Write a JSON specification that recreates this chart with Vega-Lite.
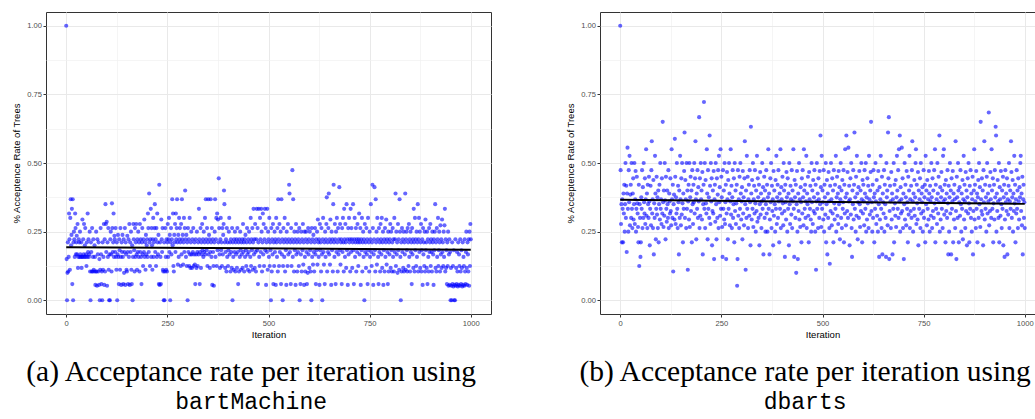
{
"$schema":"https://vega.github.io/schema/vega-lite/v6.json",
"background":"white",
"padding":{"left":10,"top":11,"right":0,"bottom":0},
"spacing":72,
"config":{"view":{"stroke":"#333333","strokeWidth":1},"font":"Liberation Sans"},
"datasets":{
"fit":[{"i":0,"b":0.1935,"d":0.366},{"i":1000,"b":0.184,"d":0.3515}],
"mc":[
{"i":0,"b":1,"d":1},{"i":1,"b":0.15,"d":0.474},{"i":2,"b":0,"d":0.278},{"i":3,"b":0.1,"d":0.35},{"i":4,"b":0.211,"d":0.211},{"i":5,"b":0.105,"d":0.368},{"i":6,"b":0.158,"d":0.333},{"i":7,"b":0.316,"d":0.211},{"i":8,"b":0.222,"d":0.389},{"i":9,"b":0.111,"d":0.316},
{"i":10,"b":0.3,"d":0.421},{"i":11,"b":0.368,"d":0.25},{"i":12,"b":0.2,"d":0.35},{"i":13,"b":0.238,"d":0.5},{"i":14,"b":0.333,"d":0.3},{"i":15,"b":0.059,"d":0.417},{"i":16,"b":0.368,"d":0.176},{"i":17,"b":0,"d":0.389},{"i":18,"b":0.211,"d":0.556},{"i":19,"b":0.25,"d":0.333},
{"i":20,"b":0.222,"d":0.25},{"i":21,"b":0.158,"d":0.474},{"i":22,"b":0.316,"d":0.357},{"i":23,"b":0.263,"d":0.526},{"i":24,"b":0.167,"d":0.273},{"i":25,"b":0.211,"d":0.385},{"i":26,"b":0.235,"d":0.421},{"i":27,"b":0.167,"d":0.3},{"i":28,"b":0.278,"d":0.5},{"i":29,"b":0.118,"d":0.333},
{"i":30,"b":0.158,"d":0.263},{"i":31,"b":0.222,"d":0.389},{"i":32,"b":0.211,"d":0.444},{"i":33,"b":0.158,"d":0.294},{"i":34,"b":0.25,"d":0.35},{"i":35,"b":0.167,"d":0.5},{"i":36,"b":0.158,"d":0.278},{"i":37,"b":0.211,"d":0.368},{"i":38,"b":0.118,"d":0.471},{"i":39,"b":0.158,"d":0.25},
{"i":40,"b":0.294,"d":0.333},{"i":41,"b":0.158,"d":0.45},{"i":42,"b":0.222,"d":0.353},{"i":43,"b":0.167,"d":0.316},{"i":44,"b":0.278,"d":0.267},{"i":45,"b":0.158,"d":0.211},{"i":46,"b":0.2,"d":0.421},{"i":47,"b":0.263,"d":0.125},{"i":48,"b":0.158,"d":0.35},{"i":49,"b":0.167,"d":0.3},
{"i":50,"b":0.125,"d":0.158},{"i":51,"b":0.211,"d":0.211},{"i":52,"b":0.158,"d":0.375},{"i":53,"b":0.316,"d":0.333},{"i":54,"b":0.176,"d":0.474},{"i":55,"b":0.222,"d":0.263},{"i":56,"b":0.158,"d":0.412},{"i":57,"b":0.167,"d":0.3},{"i":58,"b":0.25,"d":0.5},{"i":59,"b":0.105,"d":0.357},
{"i":60,"b":0,"d":0.316},{"i":61,"b":0.211,"d":0.444},{"i":62,"b":0.176,"d":0.278},{"i":63,"b":0.105,"d":0.368},{"i":64,"b":0.263,"d":0.55},{"i":65,"b":0.105,"d":0.308},{"i":66,"b":0.158,"d":0.389},{"i":67,"b":0.222,"d":0.263},{"i":68,"b":0.111,"d":0.421},{"i":69,"b":0.105,"d":0.35},
{"i":70,"b":0.2,"d":0.3},{"i":71,"b":0.158,"d":0.45},{"i":72,"b":0.056,"d":0.36},{"i":73,"b":0.105,"d":0.2},{"i":74,"b":0.25,"d":0.333},{"i":75,"b":0.105,"d":0.417},{"i":76,"b":0.053,"d":0.273},{"i":77,"b":0.222,"d":0.474},{"i":78,"b":0.167,"d":0.579},{"i":79,"b":0.105,"d":0.316},
{"i":80,"b":0.211,"d":0.368},{"i":81,"b":0.056,"d":0.263},{"i":82,"b":0.15,"d":0.438},{"i":83,"b":0,"d":0.167},{"i":84,"b":0.111,"d":0.353},{"i":85,"b":0.263,"d":0.3},{"i":86,"b":0.167,"d":0.526},{"i":87,"b":0.059,"d":0.389},{"i":88,"b":0.105,"d":0.222},{"i":89,"b":0,"d":0.333},
{"i":90,"b":0.211,"d":0.45},{"i":91,"b":0.111,"d":0.312},{"i":92,"b":0.158,"d":0.375},{"i":93,"b":0.278,"d":0.263},{"i":94,"b":0.056,"d":0.4},{"i":95,"b":0.222,"d":0.211},{"i":96,"b":0.105,"d":0.35},{"i":97,"b":0.35,"d":0.421},{"i":98,"b":0.278,"d":0.294},{"i":99,"b":0.176,"d":0.5},
{"i":100,"b":0.286,"d":0.333},{"i":101,"b":0.053,"d":0.368},{"i":102,"b":0.211,"d":0.278},{"i":103,"b":0.158,"d":0.444},{"i":104,"b":0.263,"d":0.316},{"i":105,"b":0.111,"d":0.65},{"i":106,"b":0,"d":0.357},{"i":107,"b":0.167,"d":0.267},{"i":108,"b":0,"d":0.4},{"i":109,"b":0.222,"d":0.308},
{"i":110,"b":0.25,"d":0.5},{"i":111,"b":0.167,"d":0.364},{"i":112,"b":0.105,"d":0.222},{"i":113,"b":0.353,"d":0.45},{"i":114,"b":0.263,"d":0.333},{"i":115,"b":0.176,"d":0.286},{"i":116,"b":0.211,"d":0.4},{"i":117,"b":0.316,"d":0.35},{"i":118,"b":0.158,"d":0.3},{"i":119,"b":0.235,"d":0.474},
{"i":120,"b":0.222,"d":0.263},{"i":121,"b":0.176,"d":0.389},{"i":122,"b":0.263,"d":0.36},{"i":123,"b":0.158,"d":0.316},{"i":124,"b":0.111,"d":0.444},{"i":125,"b":0.211,"d":0.325},{"i":126,"b":0,"d":0.273},{"i":127,"b":0.167,"d":0.55},{"i":128,"b":0.238,"d":0.368},{"i":129,"b":0.158,"d":0.3},
{"i":130,"b":0.059,"d":0.421},{"i":131,"b":0.222,"d":0.105},{"i":132,"b":0.182,"d":0.35},{"i":133,"b":0.111,"d":0.385},{"i":134,"b":0.263,"d":0.294},{"i":135,"b":0.158,"d":0.588},{"i":136,"b":0.056,"d":0.45},{"i":137,"b":0.211,"d":0.278},{"i":138,"b":0.176,"d":0.375},{"i":139,"b":0.238,"d":0.316},
{"i":140,"b":0.158,"d":0.5},{"i":141,"b":0.059,"d":0.333},{"i":142,"b":0.222,"d":0.263},{"i":143,"b":0.1,"d":0.417},{"i":144,"b":0.176,"d":0.357},{"i":145,"b":0.263,"d":0.167},{"i":146,"b":0.056,"d":0.4},{"i":147,"b":0.211,"d":0.3},{"i":148,"b":0.167,"d":0.526},{"i":149,"b":0.111,"d":0.368},
{"i":150,"b":0.105,"d":0.273},{"i":151,"b":0.235,"d":0.444},{"i":152,"b":0.176,"d":0.312},{"i":153,"b":0.059,"d":0.5},{"i":154,"b":0.222,"d":0.353},{"i":155,"b":0.158,"d":0.211},{"i":156,"b":0.278,"d":0.389},{"i":157,"b":0.056,"d":0.333},{"i":158,"b":0.211,"d":0.471},{"i":159,"b":0.176,"d":0.611},
{"i":160,"b":0.25,"d":0.3},{"i":161,"b":0.111,"d":0.438},{"i":162,"b":0.059,"d":0.368},{"i":163,"b":0.2,"d":0.263},{"i":164,"b":0,"d":0.5},{"i":165,"b":0.158,"d":0.333},{"i":166,"b":0.278,"d":0.4},{"i":167,"b":0.222,"d":0.111},{"i":168,"b":0.182,"d":0.36},{"i":169,"b":0.105,"d":0.421},
{"i":170,"b":0.263,"d":0.294},{"i":171,"b":0.158,"d":0.5},{"i":172,"b":0.211,"d":0.267},{"i":173,"b":0.278,"d":0.375},{"i":174,"b":0.167,"d":0.45},{"i":175,"b":0.111,"d":0.325},{"i":176,"b":0.222,"d":0.4},{"i":177,"b":0.176,"d":0.211},{"i":178,"b":0.25,"d":0.474},{"i":179,"b":0.158,"d":0.35},
{"i":180,"b":0.211,"d":0.278},{"i":181,"b":0.105,"d":0.421},{"i":182,"b":0.278,"d":0.357},{"i":183,"b":0.176,"d":0.5},{"i":184,"b":0.222,"d":0.316},{"i":185,"b":0.158,"d":0.444},{"i":186,"b":0.059,"d":0.579},{"i":187,"b":0.211,"d":0.368},{"i":188,"b":0.263,"d":0.222},{"i":189,"b":0.167,"d":0.389},
{"i":190,"b":0.125,"d":0.333},{"i":191,"b":0.222,"d":0.474},{"i":192,"b":0.176,"d":0.3},{"i":193,"b":0.294,"d":0.412},{"i":194,"b":0.158,"d":0.36},{"i":195,"b":0.211,"d":0.667},{"i":196,"b":0.111,"d":0.263},{"i":197,"b":0.238,"d":0.444},{"i":198,"b":0.167,"d":0.308},{"i":199,"b":0.2,"d":0.5},
{"i":200,"b":0.222,"d":0.368},{"i":201,"b":0.158,"d":0.4},{"i":202,"b":0.316,"d":0.294},{"i":203,"b":0.263,"d":0.467},{"i":204,"b":0.176,"d":0.167},{"i":205,"b":0.389,"d":0.35},{"i":206,"b":0.211,"d":0.421},{"i":207,"b":0.125,"d":0.722},{"i":208,"b":0.222,"d":0.333},{"i":209,"b":0.333,"d":0.5},
{"i":210,"b":0.158,"d":0.263},{"i":211,"b":0.263,"d":0.438},{"i":212,"b":0.2,"d":0.353},{"i":213,"b":0.111,"d":0.316},{"i":214,"b":0.222,"d":0.55},{"i":215,"b":0.3,"d":0.389},{"i":216,"b":0.158,"d":0.222},{"i":217,"b":0.211,"d":0.474},{"i":218,"b":0.263,"d":0.333},{"i":219,"b":0.35,"d":0.375},
{"i":220,"b":0.176,"d":0.3},{"i":221,"b":0.222,"d":0.6},{"i":222,"b":0.125,"d":0.417},{"i":223,"b":0.263,"d":0.278},{"i":224,"b":0.158,"d":0.5},{"i":225,"b":0.316,"d":0.36},{"i":226,"b":0.211,"d":0.444},{"i":227,"b":0.167,"d":0.2},{"i":228,"b":0.238,"d":0.325},{"i":229,"b":0.059,"d":0.4},
{"i":230,"b":0.421,"d":0.316},{"i":231,"b":0.056,"d":0.471},{"i":232,"b":0.211,"d":0.15},{"i":233,"b":0.158,"d":0.368},{"i":234,"b":0.059,"d":0.421},{"i":235,"b":0.294,"d":0.286},{"i":236,"b":0.222,"d":0.5},{"i":237,"b":0.176,"d":0.35},{"i":238,"b":0.263,"d":0.222},{"i":239,"b":0.111,"d":0.444},
{"i":240,"b":0.105,"d":0.3},{"i":241,"b":0,"d":0.385},{"i":242,"b":0.211,"d":0.474},{"i":243,"b":0,"d":0.263},{"i":244,"b":0.105,"d":0.526},{"i":245,"b":0.263,"d":0.357},{"i":246,"b":0.158,"d":0.412},{"i":247,"b":0.111,"d":0.308},{"i":248,"b":0.222,"d":0.55},{"i":249,"b":0.105,"d":0.333},
{"i":250,"b":0.211,"d":0.45},{"i":251,"b":0.278,"d":0.375},{"i":252,"b":0.158,"d":0.267},{"i":253,"b":0.222,"d":0.158},{"i":254,"b":0.3,"d":0.474},{"i":255,"b":0.176,"d":0.333},{"i":256,"b":0.238,"d":0.4},{"i":257,"b":0,"d":0.294},{"i":258,"b":0.211,"d":0.5},{"i":259,"b":0.263,"d":0.278},
{"i":260,"b":0.167,"d":0.357},{"i":261,"b":0.222,"d":0.421},{"i":262,"b":0.368,"d":0.15},{"i":263,"b":0.2,"d":0.316},{"i":264,"b":0.316,"d":0.467},{"i":265,"b":0.125,"d":0.368},{"i":266,"b":0.105,"d":0.222},{"i":267,"b":0.238,"d":0.438},{"i":268,"b":0.211,"d":0.333},{"i":269,"b":0.278,"d":0.5},
{"i":270,"b":0.176,"d":0.389},{"i":271,"b":0.316,"d":0.273},{"i":272,"b":0.222,"d":0.36},{"i":273,"b":0.263,"d":0.55},{"i":274,"b":0.368,"d":0.312},{"i":275,"b":0.211,"d":0.417},{"i":276,"b":0.13,"d":0.263},{"i":277,"b":0.238,"d":0.375},{"i":278,"b":0.158,"d":0.474},{"i":279,"b":0.3,"d":0.3},
{"i":280,"b":0.222,"d":0.35},{"i":281,"b":0.263,"d":0.444},{"i":282,"b":0.211,"d":0.211},{"i":283,"b":0.125,"d":0.5},{"i":284,"b":0.278,"d":0.325},{"i":285,"b":0.167,"d":0.4},{"i":286,"b":0.368,"d":0.278},{"i":287,"b":0.222,"d":0.353},{"i":288,"b":0.238,"d":0.421},{"i":289,"b":0.13,"d":0.053},
{"i":290,"b":0.211,"d":0.15},{"i":291,"b":0.3,"d":0.474},{"i":292,"b":0.176,"d":0.308},{"i":293,"b":0.263,"d":0.368},{"i":294,"b":0.4,"d":0.263},{"i":295,"b":0.222,"d":0.45},{"i":296,"b":0.158,"d":0.333},{"i":297,"b":0.238,"d":0.5},{"i":298,"b":0.125,"d":0.389},{"i":299,"b":0.211,"d":0.294},
{"i":300,"b":0,"d":0.36},{"i":301,"b":0.263,"d":0.412},{"i":302,"b":0.176,"d":0.222},{"i":303,"b":0.222,"d":0.471},{"i":304,"b":0.125,"d":0.316},{"i":305,"b":0.3,"d":0.375},{"i":306,"b":0.167,"d":0.273},{"i":307,"b":0.118,"d":0.444},{"i":308,"b":0.211,"d":0.579},{"i":309,"b":0.25,"d":0.35},
{"i":310,"b":0.167,"d":0.111},{"i":311,"b":0.118,"d":0.4},{"i":312,"b":0.222,"d":0.3},{"i":313,"b":0.176,"d":0.526},{"i":314,"b":0.263,"d":0.333},{"i":315,"b":0.125,"d":0.45},{"i":316,"b":0.167,"d":0.263},{"i":317,"b":0.211,"d":0.368},{"i":318,"b":0.13,"d":0.421},{"i":319,"b":0.059,"d":0.308},
{"i":320,"b":0.222,"d":0.474},{"i":321,"b":0.167,"d":0.357},{"i":322,"b":0.118,"d":0.2},{"i":323,"b":0.25,"d":0.632},{"i":324,"b":0.176,"d":0.389},{"i":325,"b":0.125,"d":0.294},{"i":326,"b":0.211,"d":0.438},{"i":327,"b":0.167,"d":0.333},{"i":328,"b":0.333,"d":0.5},{"i":329,"b":0.222,"d":0.267},
{"i":330,"b":0.059,"d":0.368},{"i":331,"b":0.176,"d":0.417},{"i":332,"b":0.263,"d":0.316},{"i":333,"b":0.118,"d":0.474},{"i":334,"b":0.211,"d":0.353},{"i":335,"b":0.167,"d":0.25},{"i":336,"b":0.278,"d":0.4},{"i":337,"b":0.182,"d":0.325},{"i":338,"b":0.222,"d":0.526},{"i":339,"b":0.158,"d":0.286},
{"i":340,"b":0.25,"d":0.444},{"i":341,"b":0.176,"d":0.375},{"i":342,"b":0.211,"d":0.3},{"i":343,"b":0.3,"d":0.421},{"i":344,"b":0.167,"d":0.2},{"i":345,"b":0.368,"d":0.35},{"i":346,"b":0.222,"d":0.467},{"i":347,"b":0.182,"d":0.312},{"i":348,"b":0.263,"d":0.389},{"i":349,"b":0.125,"d":0.263},
{"i":350,"b":0.211,"d":0.36},{"i":351,"b":0.368,"d":0.5},{"i":352,"b":0.167,"d":0.333},{"i":353,"b":0.238,"d":0.412},{"i":354,"b":0.222,"d":0.167},{"i":355,"b":0.118,"d":0.368},{"i":356,"b":0.176,"d":0.45},{"i":357,"b":0.368,"d":0.3},{"i":358,"b":0.211,"d":0.4},{"i":359,"b":0.158,"d":0.25},
{"i":360,"b":0.263,"d":0.35},{"i":361,"b":0.056,"d":0.474},{"i":362,"b":0.222,"d":0.316},{"i":363,"b":0.176,"d":0.421},{"i":364,"b":0.125,"d":0.25},{"i":365,"b":0.053,"d":0.375},{"i":366,"b":0.211,"d":0.55},{"i":367,"b":0.25,"d":0.333},{"i":368,"b":0.368,"d":0.389},{"i":369,"b":0.158,"d":0.167},
{"i":370,"b":0.222,"d":0.294},{"i":371,"b":0.3,"d":0.444},{"i":372,"b":0.125,"d":0.357},{"i":373,"b":0.316,"d":0.5},{"i":374,"b":0.182,"d":0.263},{"i":375,"b":0.294,"d":0.417},{"i":376,"b":0.211,"d":0.325},{"i":377,"b":0.444,"d":0.368},{"i":378,"b":0.263,"d":0.2},{"i":379,"b":0.167,"d":0.471},
{"i":380,"b":0.118,"d":0.308},{"i":381,"b":0.222,"d":0.4},{"i":382,"b":0.3,"d":0.35},{"i":383,"b":0.182,"d":0.25},{"i":384,"b":0.211,"d":0.438},{"i":385,"b":0.125,"d":0.333},{"i":386,"b":0.263,"d":0.526},{"i":387,"b":0.167,"d":0.278},{"i":388,"b":0.238,"d":0.375},{"i":389,"b":0.278,"d":0.421},
{"i":390,"b":0.4,"d":0.3},{"i":391,"b":0.35,"d":0.474},{"i":392,"b":0.211,"d":0.36},{"i":393,"b":0.118,"d":0.211},{"i":394,"b":0.176,"d":0.389},{"i":395,"b":0.222,"d":0.333},{"i":396,"b":0.105,"d":0.55},{"i":397,"b":0.263,"d":0.263},{"i":398,"b":0.158,"d":0.412},{"i":399,"b":0.211,"d":0.368},
{"i":400,"b":0.125,"d":0.316},{"i":401,"b":0.182,"d":0.45},{"i":402,"b":0.25,"d":0.353},{"i":403,"b":0.3,"d":0.273},{"i":404,"b":0.167,"d":0.5},{"i":405,"b":0.211,"d":0.4},{"i":406,"b":0.105,"d":0.325},{"i":407,"b":0.222,"d":0.158},{"i":408,"b":0.176,"d":0.421},{"i":409,"b":0.118,"d":0.357},
{"i":410,"b":0.263,"d":0.294},{"i":411,"b":0,"d":0.467},{"i":412,"b":0.211,"d":0.375},{"i":413,"b":0.158,"d":0.25},{"i":414,"b":0.111,"d":0.444},{"i":415,"b":0.222,"d":0.333},{"i":416,"b":0.176,"d":0.389},{"i":417,"b":0.25,"d":0.2},{"i":418,"b":0.105,"d":0.5},{"i":419,"b":0.211,"d":0.35},
{"i":420,"b":0.167,"d":0.278},{"i":421,"b":0.222,"d":0.417},{"i":422,"b":0.118,"d":0.368},{"i":423,"b":0.263,"d":0.312},{"i":424,"b":0.176,"d":0.474},{"i":425,"b":0.059,"d":0.263},{"i":426,"b":0.211,"d":0.4},{"i":427,"b":0.105,"d":0.36},{"i":428,"b":0.222,"d":0.55},{"i":429,"b":0.158,"d":0.333},
{"i":430,"b":0.25,"d":0.158},{"i":431,"b":0.182,"d":0.438},{"i":432,"b":0.111,"d":0.375},{"i":433,"b":0.211,"d":0.3},{"i":434,"b":0.167,"d":0.421},{"i":435,"b":0.222,"d":0.1},{"i":436,"b":0.118,"d":0.35},{"i":437,"b":0.278,"d":0.471},{"i":438,"b":0.176,"d":0.25},{"i":439,"b":0.211,"d":0.15},
{"i":440,"b":0.105,"d":0.389},{"i":441,"b":0.222,"d":0.325},{"i":442,"b":0.158,"d":0.5},{"i":443,"b":0.238,"d":0.294},{"i":444,"b":0.182,"d":0.368},{"i":445,"b":0.125,"d":0.267},{"i":446,"b":0.211,"d":0.412},{"i":447,"b":0.263,"d":0.357},{"i":448,"b":0.167,"d":0.211},{"i":449,"b":0.111,"d":0.444},
{"i":450,"b":0.222,"d":0.316},{"i":451,"b":0.176,"d":0.474},{"i":452,"b":0.25,"d":0.375},{"i":453,"b":0.105,"d":0.273},{"i":454,"b":0.211,"d":0.55},{"i":455,"b":0.158,"d":0.4},{"i":456,"b":0.3,"d":0.333},{"i":457,"b":0.125,"d":0.421},{"i":458,"b":0.222,"d":0.3},{"i":459,"b":0.182,"d":0.36},
{"i":460,"b":0.263,"d":0.526},{"i":461,"b":0.111,"d":0.263},{"i":462,"b":0.211,"d":0.389},{"i":463,"b":0.333,"d":0.35},{"i":464,"b":0.167,"d":0.45},{"i":465,"b":0.222,"d":0.308},{"i":466,"b":0.118,"d":0.211},{"i":467,"b":0.278,"d":0.467},{"i":468,"b":0.176,"d":0.368},{"i":469,"b":0.105,"d":0.333},
{"i":470,"b":0.222,"d":0.417},{"i":471,"b":0.333,"d":0.294},{"i":472,"b":0.182,"d":0.25},{"i":473,"b":0.263,"d":0.5},{"i":474,"b":0.059,"d":0.357},{"i":475,"b":0.211,"d":0.4},{"i":476,"b":0.333,"d":0.278},{"i":477,"b":0.158,"d":0.438},{"i":478,"b":0.125,"d":0.325},{"i":479,"b":0.3,"d":0.375},
{"i":480,"b":0.222,"d":0.474},{"i":481,"b":0.176,"d":0.316},{"i":482,"b":0.333,"d":0.25},{"i":483,"b":0.25,"d":0.421},{"i":484,"b":0.105,"d":0.111},{"i":485,"b":0.211,"d":0.36},{"i":486,"b":0.316,"d":0.5},{"i":487,"b":0.167,"d":0.333},{"i":488,"b":0.278,"d":0.389},{"i":489,"b":0.125,"d":0.263},
{"i":490,"b":0.222,"d":0.444},{"i":491,"b":0.333,"d":0.368},{"i":492,"b":0.182,"d":0.3},{"i":493,"b":0.263,"d":0.471},{"i":494,"b":0.056,"d":0.35},{"i":495,"b":0.211,"d":0.6},{"i":496,"b":0.176,"d":0.412},{"i":497,"b":0.333,"d":0.267},{"i":498,"b":0.111,"d":0.526},{"i":499,"b":0.25,"d":0.333},
{"i":500,"b":0.222,"d":0.4},{"i":501,"b":0.158,"d":0.357},{"i":502,"b":0.3,"d":0.294},{"i":503,"b":0.125,"d":0.474},{"i":504,"b":0.211,"d":0.25},{"i":505,"b":0.182,"d":0.421},{"i":506,"b":0,"d":0.375},{"i":507,"b":0.263,"d":0.312},{"i":508,"b":0.105,"d":0.5},{"i":509,"b":0.222,"d":0.211},
{"i":510,"b":0.167,"d":0.35},{"i":511,"b":0.278,"d":0.438},{"i":512,"b":0.059,"d":0.167},{"i":513,"b":0.211,"d":0.389},{"i":514,"b":0.125,"d":0.3},{"i":515,"b":0.25,"d":0.467},{"i":516,"b":0.176,"d":0.36},{"i":517,"b":0.222,"d":0.263},{"i":518,"b":0.056,"d":0.133},{"i":519,"b":0.3,"d":0.417},
{"i":520,"b":0.211,"d":0.325},{"i":521,"b":0.158,"d":0.5},{"i":522,"b":0.263,"d":0.368},{"i":523,"b":0.105,"d":0.273},{"i":524,"b":0.368,"d":0.444},{"i":525,"b":0.222,"d":0.316},{"i":526,"b":0.125,"d":0.4},{"i":527,"b":0.278,"d":0.211},{"i":528,"b":0.176,"d":0.474},{"i":529,"b":0.211,"d":0.353},
{"i":530,"b":0.25,"d":0.294},{"i":531,"b":0.059,"d":0.421},{"i":532,"b":0.368,"d":0.333},{"i":533,"b":0.167,"d":0.526},{"i":534,"b":0.222,"d":0.25},{"i":535,"b":0,"d":0.375},{"i":536,"b":0.125,"d":0.45},{"i":537,"b":0.263,"d":0.308},{"i":538,"b":0.211,"d":0.389},{"i":539,"b":0.158,"d":0.278},
{"i":540,"b":0.3,"d":0.471},{"i":541,"b":0.105,"d":0.35},{"i":542,"b":0.222,"d":0.412},{"i":543,"b":0.182,"d":0.222},{"i":544,"b":0.056,"d":0.368},{"i":545,"b":0.25,"d":0.5},{"i":546,"b":0.211,"d":0.3},{"i":547,"b":0.125,"d":0.4},{"i":548,"b":0.278,"d":0.263},{"i":549,"b":0.167,"d":0.438},
{"i":550,"b":0.222,"d":0.333},{"i":551,"b":0.421,"d":0.357},{"i":552,"b":0.389,"d":0.474},{"i":553,"b":0.176,"d":0.211},{"i":554,"b":0.211,"d":0.421},{"i":555,"b":0.059,"d":0.316},{"i":556,"b":0.263,"d":0.55},{"i":557,"b":0.125,"d":0.375},{"i":558,"b":0.222,"d":0.273},{"i":559,"b":0.474,"d":0.6},
{"i":560,"b":0.158,"d":0.389},{"i":561,"b":0.368,"d":0.325},{"i":562,"b":0.211,"d":0.467},{"i":563,"b":0.105,"d":0.3},{"i":564,"b":0.25,"d":0.556},{"i":565,"b":0.182,"d":0.36},{"i":566,"b":0.222,"d":0.417},{"i":567,"b":0.056,"d":0.2},{"i":568,"b":0.278,"d":0.368},{"i":569,"b":0.167,"d":0.444},
{"i":570,"b":0.211,"d":0.312},{"i":571,"b":0.105,"d":0.5},{"i":572,"b":0.25,"d":0.263},{"i":573,"b":0.176,"d":0.158},{"i":574,"b":0.222,"d":0.4},{"i":575,"b":0.125,"d":0.35},{"i":576,"b":0.263,"d":0.474},{"i":577,"b":0,"d":0.294},{"i":578,"b":0.211,"d":0.421},{"i":579,"b":0.059,"d":0.611},
{"i":580,"b":0.167,"d":0.333},{"i":581,"b":0.25,"d":0.375},{"i":582,"b":0.105,"d":0.25},{"i":583,"b":0.222,"d":0.45},{"i":584,"b":0.182,"d":0.308},{"i":585,"b":0.278,"d":0.526},{"i":586,"b":0.13,"d":0.389},{"i":587,"b":0.211,"d":0.222},{"i":588,"b":0.056,"d":0.357},{"i":589,"b":0.25,"d":0.412},
{"i":590,"b":0.158,"d":0.3},{"i":591,"b":0.105,"d":0.471},{"i":592,"b":0.222,"d":0.35},{"i":593,"b":0.25,"d":0.267},{"i":594,"b":0.176,"d":0.4},{"i":595,"b":0.059,"d":0.325},{"i":596,"b":0.211,"d":0.5},{"i":597,"b":0.1,"d":0.368},{"i":598,"b":0.263,"d":0.211},{"i":599,"b":0.167,"d":0.438},
{"i":600,"b":0.222,"d":0.316},{"i":601,"b":0.118,"d":0.421},{"i":602,"b":0.25,"d":0.36},{"i":603,"b":0.182,"d":0.273},{"i":604,"b":0.105,"d":0.474},{"i":605,"b":0.211,"d":0.389},{"i":606,"b":0,"d":0.333},{"i":607,"b":0.263,"d":0.5},{"i":608,"b":0.158,"d":0.25},{"i":609,"b":0.222,"d":0.375},
{"i":610,"b":0.13,"d":0.294},{"i":611,"b":0.238,"d":0.444},{"i":612,"b":0.176,"d":0.353},{"i":613,"b":0.105,"d":0.417},{"i":614,"b":0.211,"d":0.263},{"i":615,"b":0.263,"d":0.526},{"i":616,"b":0.167,"d":0.368},{"i":617,"b":0.059,"d":0.312},{"i":618,"b":0.222,"d":0.4},{"i":619,"b":0.182,"d":0.467},
{"i":620,"b":0.25,"d":0.65},{"i":621,"b":0.13,"d":0.325},{"i":622,"b":0.294,"d":0.357},{"i":623,"b":0.211,"d":0.25},{"i":624,"b":0.158,"d":0.421},{"i":625,"b":0.222,"d":0.3},{"i":626,"b":0.056,"d":0.474},{"i":627,"b":0.278,"d":0.375},{"i":628,"b":0.182,"d":0.211},{"i":629,"b":0.211,"d":0.389},
{"i":630,"b":0.105,"d":0.333},{"i":631,"b":0.263,"d":0.5},{"i":632,"b":0.167,"d":0.36},{"i":633,"b":0,"d":0.278},{"i":634,"b":0.222,"d":0.438},{"i":635,"b":0.3,"d":0.308},{"i":636,"b":0.176,"d":0.4},{"i":637,"b":0.13,"d":0.25},{"i":638,"b":0.211,"d":0.471},{"i":639,"b":0.059,"d":0.35},
{"i":640,"b":0.25,"d":0.158},{"i":641,"b":0.158,"d":0.412},{"i":642,"b":0.222,"d":0.294},{"i":643,"b":0.278,"d":0.368},{"i":644,"b":0.375,"d":0.526},{"i":645,"b":0.105,"d":0.333},{"i":646,"b":0.211,"d":0.263},{"i":647,"b":0.176,"d":0.45},{"i":648,"b":0.263,"d":0.167},{"i":649,"b":0.389,"d":0.389},
{"i":650,"b":0.167,"d":0.357},{"i":651,"b":0.222,"d":0.316},{"i":652,"b":0.13,"d":0.474},{"i":653,"b":0.294,"d":0.25},{"i":654,"b":0.211,"d":0.421},{"i":655,"b":0.056,"d":0.35},{"i":656,"b":0.25,"d":0.3},{"i":657,"b":0.182,"d":0.158},{"i":658,"b":0.222,"d":0.5},{"i":659,"b":0.105,"d":0.375},
{"i":660,"b":0.35,"d":0.4},{"i":661,"b":0.421,"d":0.273},{"i":662,"b":0.211,"d":0.611},{"i":663,"b":0.158,"d":0.444},{"i":664,"b":0.278,"d":0.667},{"i":665,"b":0.222,"d":0.15},{"i":666,"b":0.059,"d":0.325},{"i":667,"b":0.25,"d":0.417},{"i":668,"b":0.176,"d":0.36},{"i":669,"b":0.3,"d":0.263},
{"i":670,"b":0.211,"d":0.467},{"i":671,"b":0.105,"d":0.294},{"i":672,"b":0.263,"d":0.389},{"i":673,"b":0.167,"d":0.167},{"i":674,"b":0.222,"d":0.368},{"i":675,"b":0.412,"d":0.333},{"i":676,"b":0.182,"d":0.5},{"i":677,"b":0.278,"d":0.211},{"i":678,"b":0.13,"d":0.421},{"i":679,"b":0.211,"d":0.353},
{"i":680,"b":0.222,"d":0.308},{"i":681,"b":0.059,"d":0.438},{"i":682,"b":0.263,"d":0.267},{"i":683,"b":0.176,"d":0.375},{"i":684,"b":0.3,"d":0.526},{"i":685,"b":0.211,"d":0.4},{"i":686,"b":0.105,"d":0.333},{"i":687,"b":0.333,"d":0.474},{"i":688,"b":0.222,"d":0.3},{"i":689,"b":0.158,"d":0.55},
{"i":690,"b":0.278,"d":0.36},{"i":691,"b":0.211,"d":0.6},{"i":692,"b":0.118,"d":0.25},{"i":693,"b":0.35,"d":0.412},{"i":694,"b":0.182,"d":0.316},{"i":695,"b":0.222,"d":0.368},{"i":696,"b":0.056,"d":0.556},{"i":697,"b":0.263,"d":0.325},{"i":698,"b":0.167,"d":0.444},{"i":699,"b":0.3,"d":0.263},
{"i":700,"b":0.211,"d":0.389},{"i":701,"b":0.222,"d":0.15},{"i":702,"b":0.105,"d":0.35},{"i":703,"b":0.333,"d":0.5},{"i":704,"b":0.176,"d":0.294},{"i":705,"b":0.263,"d":0.421},{"i":706,"b":0.222,"d":0.375},{"i":707,"b":0.118,"d":0.273},{"i":708,"b":0.211,"d":0.471},{"i":709,"b":0.35,"d":0.333},
{"i":710,"b":0.182,"d":0.357},{"i":711,"b":0.059,"d":0.211},{"i":712,"b":0.222,"d":0.45},{"i":713,"b":0.3,"d":0.312},{"i":714,"b":0.158,"d":0.4},{"i":715,"b":0.211,"d":0.526},{"i":716,"b":0.263,"d":0.263},{"i":717,"b":0.105,"d":0.368},{"i":718,"b":0.222,"d":0.325},{"i":719,"b":0.176,"d":0.417},
{"i":720,"b":0.278,"d":0.3},{"i":721,"b":0.211,"d":0.474},{"i":722,"b":0.125,"d":0.579},{"i":723,"b":0.222,"d":0.36},{"i":724,"b":0.316,"d":0.25},{"i":725,"b":0.167,"d":0.389},{"i":726,"b":0.211,"d":0.333},{"i":727,"b":0.263,"d":0.438},{"i":728,"b":0.056,"d":0.308},{"i":729,"b":0.222,"d":0.375},
{"i":730,"b":0.182,"d":0.5},{"i":731,"b":0.3,"d":0.55},{"i":732,"b":0.105,"d":0.278},{"i":733,"b":0.211,"d":0.421},{"i":734,"b":0.25,"d":0.353},{"i":735,"b":0.158,"d":0.294},{"i":736,"b":0.222,"d":0.467},{"i":737,"b":0,"d":0.2},{"i":738,"b":0.278,"d":0.4},{"i":739,"b":0.176,"d":0.333},
{"i":740,"b":0.211,"d":0.368},{"i":741,"b":0.118,"d":0.444},{"i":742,"b":0.263,"d":0.263},{"i":743,"b":0.167,"d":0.5},{"i":744,"b":0.222,"d":0.316},{"i":745,"b":0.059,"d":0.389},{"i":746,"b":0.3,"d":0.357},{"i":747,"b":0.182,"d":0.412},{"i":748,"b":0.211,"d":0.25},{"i":749,"b":0.105,"d":0.325},
{"i":750,"b":0.25,"d":0.474},{"i":751,"b":0.158,"d":0.3},{"i":752,"b":0.222,"d":0.375},{"i":753,"b":0.35,"d":0.421},{"i":754,"b":0.176,"d":0.211},{"i":755,"b":0.125,"d":0.526},{"i":756,"b":0.211,"d":0.35},{"i":757,"b":0.421,"d":0.4},{"i":758,"b":0.263,"d":0.273},{"i":759,"b":0.056,"d":0.438},
{"i":760,"b":0.167,"d":0.333},{"i":761,"b":0.222,"d":0.368},{"i":762,"b":0.412,"d":0.294},{"i":763,"b":0.182,"d":0.471},{"i":764,"b":0.105,"d":0.389},{"i":765,"b":0.368,"d":0.25},{"i":766,"b":0.211,"d":0.417},{"i":767,"b":0.25,"d":0.36},{"i":768,"b":0.13,"d":0.308},{"i":769,"b":0.3,"d":0.5},
{"i":770,"b":0.222,"d":0.375},{"i":771,"b":0.158,"d":0.263},{"i":772,"b":0.059,"d":0.444},{"i":773,"b":0.263,"d":0.325},{"i":774,"b":0.176,"d":0.4},{"i":775,"b":0.211,"d":0.3},{"i":776,"b":0.105,"d":0.474},{"i":777,"b":0.278,"d":0.353},{"i":778,"b":0.222,"d":0.55},{"i":779,"b":0.167,"d":0.211},
{"i":780,"b":0.3,"d":0.421},{"i":781,"b":0.118,"d":0.333},{"i":782,"b":0.211,"d":0.368},{"i":783,"b":0.25,"d":0.278},{"i":784,"b":0.056,"d":0.5},{"i":785,"b":0.182,"d":0.389},{"i":786,"b":0.222,"d":0.316},{"i":787,"b":0.105,"d":0.45},{"i":788,"b":0.263,"d":0.357},{"i":789,"b":0.158,"d":0.6},
{"i":790,"b":0.211,"d":0.25},{"i":791,"b":0.294,"d":0.412},{"i":792,"b":0.13,"d":0.294},{"i":793,"b":0.222,"d":0.375},{"i":794,"b":0.176,"d":0.467},{"i":795,"b":0.059,"d":0.333},{"i":796,"b":0.25,"d":0.4},{"i":797,"b":0.105,"d":0.263},{"i":798,"b":0.211,"d":0.526},{"i":799,"b":0.167,"d":0.36},
{"i":800,"b":0.222,"d":0.55},{"i":801,"b":0.278,"d":0.312},{"i":802,"b":0.118,"d":0.421},{"i":803,"b":0.25,"d":0.368},{"i":804,"b":0.182,"d":0.211},{"i":805,"b":0.105,"d":0.438},{"i":806,"b":0.211,"d":0.325},{"i":807,"b":0.263,"d":0.389},{"i":808,"b":0.158,"d":0.3},{"i":809,"b":0.222,"d":0.474},
{"i":810,"b":0.105,"d":0.353},{"i":811,"b":0.3,"d":0.167},{"i":812,"b":0.176,"d":0.417},{"i":813,"b":0.222,"d":0.25},{"i":814,"b":0.389,"d":0.375},{"i":815,"b":0.125,"d":0.5},{"i":816,"b":0.25,"d":0.316},{"i":817,"b":0.167,"d":0.4},{"i":818,"b":0.211,"d":0.167},{"i":819,"b":0.1,"d":0.444},
{"i":820,"b":0.278,"d":0.333},{"i":821,"b":0.182,"d":0.36},{"i":822,"b":0.222,"d":0.471},{"i":823,"b":0.111,"d":0.211},{"i":824,"b":0.368,"d":0.389},{"i":825,"b":0.25,"d":0.294},{"i":826,"b":0.158,"d":0.421},{"i":827,"b":0,"d":0.368},{"i":828,"b":0.211,"d":0.263},{"i":829,"b":0.105,"d":0.579},
{"i":830,"b":0.263,"d":0.325},{"i":831,"b":0.176,"d":0.15},{"i":832,"b":0.222,"d":0.45},{"i":833,"b":0.118,"d":0.375},{"i":834,"b":0.25,"d":0.3},{"i":835,"b":0.105,"d":0.5},{"i":836,"b":0.211,"d":0.4},{"i":837,"b":0.167,"d":0.211},{"i":838,"b":0.389,"d":0.357},{"i":839,"b":0.111,"d":0.412},
{"i":840,"b":0.222,"d":0.308},{"i":841,"b":0.25,"d":0.474},{"i":842,"b":0.182,"d":0.35},{"i":843,"b":0.105,"d":0.25},{"i":844,"b":0.263,"d":0.389},{"i":845,"b":0.211,"d":0.333},{"i":846,"b":0.125,"d":0.438},{"i":847,"b":0.278,"d":0.222},{"i":848,"b":0.158,"d":0.368},{"i":849,"b":0.222,"d":0.526},
{"i":850,"b":0.105,"d":0.294},{"i":851,"b":0.25,"d":0.421},{"i":852,"b":0.176,"d":0.36},{"i":853,"b":0.211,"d":0.263},{"i":854,"b":0.059,"d":0.467},{"i":855,"b":0.263,"d":0.325},{"i":856,"b":0.167,"d":0.4},{"i":857,"b":0.222,"d":0.2},{"i":858,"b":0.118,"d":0.375},{"i":859,"b":0.333,"d":0.444},
{"i":860,"b":0.211,"d":0.316},{"i":861,"b":0.105,"d":0.5},{"i":862,"b":0.3,"d":0.353},{"i":863,"b":0.182,"d":0.211},{"i":864,"b":0.222,"d":0.417},{"i":865,"b":0.125,"d":0.333},{"i":866,"b":0.25,"d":0.474},{"i":867,"b":0.158,"d":0.3},{"i":868,"b":0.211,"d":0.389},{"i":869,"b":0.35,"d":0.25},
{"i":870,"b":0.105,"d":0.368},{"i":871,"b":0.222,"d":0.45},{"i":872,"b":0.3,"d":0.167},{"i":873,"b":0.176,"d":0.325},{"i":874,"b":0.25,"d":0.4},{"i":875,"b":0.118,"d":0.55},{"i":876,"b":0.211,"d":0.294},{"i":877,"b":0.278,"d":0.421},{"i":878,"b":0.105,"d":0.36},{"i":879,"b":0.182,"d":0.263},
{"i":880,"b":0.222,"d":0.471},{"i":881,"b":0.056,"d":0.333},{"i":882,"b":0.263,"d":0.389},{"i":883,"b":0.167,"d":0.211},{"i":884,"b":0.211,"d":0.375},{"i":885,"b":0.125,"d":0.438},{"i":886,"b":0.25,"d":0.3},{"i":887,"b":0.105,"d":0.5},{"i":888,"b":0.294,"d":0.35},{"i":889,"b":0.182,"d":0.412},
{"i":890,"b":0.211,"d":0.267},{"i":891,"b":0.118,"d":0.65},{"i":892,"b":0.25,"d":0.368},{"i":893,"b":0.059,"d":0.325},{"i":894,"b":0.222,"d":0.444},{"i":895,"b":0.158,"d":0.312},{"i":896,"b":0.105,"d":0.4},{"i":897,"b":0.263,"d":0.2},{"i":898,"b":0.176,"d":0.474},{"i":899,"b":0.211,"d":0.357},
{"i":900,"b":0.278,"d":0.579},{"i":901,"b":0.125,"d":0.294},{"i":902,"b":0.222,"d":0.421},{"i":903,"b":0.176,"d":0.333},{"i":904,"b":0.105,"d":0.375},{"i":905,"b":0.25,"d":0.25},{"i":906,"b":0.211,"d":0.45},{"i":907,"b":0.167,"d":0.5},{"i":908,"b":0.056,"d":0.316},{"i":909,"b":0.222,"d":0.389},
{"i":910,"b":0.182,"d":0.36},{"i":911,"b":0.25,"d":0.684},{"i":912,"b":0.35,"d":0.273},{"i":913,"b":0.118,"d":0.417},{"i":914,"b":0.211,"d":0.325},{"i":915,"b":0.105,"d":0.467},{"i":916,"b":0.263,"d":0.368},{"i":917,"b":0.158,"d":0.3},{"i":918,"b":0.222,"d":0.55},{"i":919,"b":0.3,"d":0.4},
{"i":920,"b":0.125,"d":0.333},{"i":921,"b":0.182,"d":0.444},{"i":922,"b":0.25,"d":0.211},{"i":923,"b":0.211,"d":0.353},{"i":924,"b":0.105,"d":0.421},{"i":925,"b":0.273,"d":0.294},{"i":926,"b":0.167,"d":0.474},{"i":927,"b":0.222,"d":0.375},{"i":928,"b":0.118,"d":0.632},{"i":929,"b":0.294,"d":0.6},
{"i":930,"b":0.176,"d":0.25},{"i":931,"b":0.211,"d":0.389},{"i":932,"b":0.125,"d":0.325},{"i":933,"b":0.25,"d":0.438},{"i":934,"b":0.158,"d":0.36},{"i":935,"b":0.273,"d":0.3},{"i":936,"b":0.333,"d":0.5},{"i":937,"b":0.105,"d":0.211},{"i":938,"b":0.222,"d":0.412},{"i":939,"b":0.118,"d":0.368},
{"i":940,"b":0.182,"d":0.308},{"i":941,"b":0.059,"d":0.471},{"i":942,"b":0.211,"d":0.35},{"i":943,"b":0.125,"d":0.263},{"i":944,"b":0.25,"d":0.4},{"i":945,"b":0.053,"d":0.333},{"i":946,"b":0.167,"d":0.45},{"i":947,"b":0.222,"d":0.2},{"i":948,"b":0.056,"d":0.375},{"i":949,"b":0.176,"d":0.421},
{"i":950,"b":0,"d":0.158},{"i":951,"b":0.118,"d":0.294},{"i":952,"b":0.053,"d":0.474},{"i":953,"b":0,"d":0.357},{"i":954,"b":0.211,"d":0.389},{"i":955,"b":0.059,"d":0.325},{"i":956,"b":0.125,"d":0.444},{"i":957,"b":0.05,"d":0.167},{"i":958,"b":0.182,"d":0.368},{"i":959,"b":0,"d":0.312},
{"i":960,"b":0.056,"d":0.417},{"i":961,"b":0,"d":0.5},{"i":962,"b":0.222,"d":0.263},{"i":963,"b":0.053,"d":0.36},{"i":964,"b":0.118,"d":0.4},{"i":965,"b":0.059,"d":0.333},{"i":966,"b":0.176,"d":0.579},{"i":967,"b":0.105,"d":0.467},{"i":968,"b":0.05,"d":0.3},{"i":969,"b":0.211,"d":0.375},
{"i":970,"b":0.056,"d":0.438},{"i":971,"b":0.167,"d":0.25},{"i":972,"b":0.125,"d":0.389},{"i":973,"b":0.053,"d":0.325},{"i":974,"b":0.222,"d":0.526},{"i":975,"b":0.105,"d":0.353},{"i":976,"b":0.059,"d":0.421},{"i":977,"b":0.182,"d":0.211},{"i":978,"b":0.118,"d":0.368},{"i":979,"b":0.05,"d":0.316},
{"i":980,"b":0.211,"d":0.474},{"i":981,"b":0.056,"d":0.333},{"i":982,"b":0.158,"d":0.4},{"i":983,"b":0.125,"d":0.263},{"i":984,"b":0.053,"d":0.444},{"i":985,"b":0.222,"d":0.36},{"i":986,"b":0.105,"d":0.294},{"i":987,"b":0.059,"d":0.412},{"i":988,"b":0.176,"d":0.375},{"i":989,"b":0.25,"d":0.5},
{"i":990,"b":0.118,"d":0.526},{"i":991,"b":0.056,"d":0.325},{"i":992,"b":0.211,"d":0.389},{"i":993,"b":0.167,"d":0.273},{"i":994,"b":0.105,"d":0.45},{"i":995,"b":0.222,"d":0.167},{"i":996,"b":0.053,"d":0.368},{"i":997,"b":0.25,"d":0.421},{"i":998,"b":0.125,"d":0.3},{"i":999,"b":0.278,"d":0.357},
{"i":1000,"b":0.222,"d":0.263}
]},
"hconcat":[
{"width":445,"height":302,
"title":{"text":"(a) Acceptance rate per iteration using","subtitle":"bartMachine","orient":"bottom","anchor":"middle","frame":"bounds","offset":19,"font":"Liberation Serif","fontSize":29.5,"fontWeight":"normal","color":"black","subtitleFont":"Liberation Mono","subtitleFontSize":23,"subtitleColor":"black","subtitlePadding":3},
"encoding":{
"x":{"field":"i","type":"quantitative","scale":{"domain":[-50,1050],"nice":false,"zero":false},"axis":{"title":"Iteration","values":[0,125,250,375,500,625,750,875,1000],"labelExpr":"datum.value % 250 === 0 ? datum.label : ''","format":"d","domain":false,"tickSize":3,"tickColor":"#333333","tickOpacity":{"condition":{"test":"datum.value % 250 === 0","value":1},"value":0},"gridColor":{"condition":{"test":"datum.value % 250 === 0","value":"#e9e9e9"},"value":"#f0f0f0"},"gridWidth":{"condition":{"test":"datum.value % 250 === 0","value":1},"value":0.7},"labelFont":"Liberation Sans","labelFontSize":7.6,"labelColor":"#4d4d4d","labelPadding":2,"labelFlush":false,"labelOverlap":false,"titleFont":"Liberation Sans","titleFontSize":9.5,"titleFontWeight":"normal","titleColor":"black","titlePadding":3}},
"y":{"field":"b","type":"quantitative","scale":{"domain":[-0.05,1.05],"nice":false,"zero":false},"axis":{"title":"% Acceptence Rate of Trees","values":[0,0.125,0.25,0.375,0.5,0.625,0.75,0.875,1],"format":".2f","labelExpr":"round(datum.value*8) % 2 === 0 ? datum.label : ''","domain":false,"tickSize":3,"tickColor":"#333333","tickOpacity":{"condition":{"test":"round(datum.value*8) % 2 === 0","value":1},"value":0},"gridColor":{"condition":{"test":"round(datum.value*8) % 2 === 0","value":"#e9e9e9"},"value":"#f0f0f0"},"gridWidth":{"condition":{"test":"round(datum.value*8) % 2 === 0","value":1},"value":0.7},"labelFont":"Liberation Sans","labelFontSize":7.6,"labelColor":"#4d4d4d","labelPadding":1.5,"labelFlush":false,"labelOverlap":false,"titleFont":"Liberation Sans","titleFontSize":9.5,"titleFontWeight":"normal","titleColor":"black","titlePadding":5.5}}},
"layer":[
{"data":{"name":"mc"},"mark":{"type":"circle","size":17,"color":"#0000ff","opacity":0.6}},
{"data":{"name":"fit"},"mark":{"type":"line","color":"black","strokeWidth":2},"encoding":{}}
]},
{"width":445,"height":302,
"title":{"text":"(b) Acceptance rate per iteration using","subtitle":"dbarts","orient":"bottom","anchor":"middle","frame":"bounds","offset":19,"font":"Liberation Serif","fontSize":29.5,"fontWeight":"normal","color":"black","subtitleFont":"Liberation Mono","subtitleFontSize":23,"subtitleColor":"black","subtitlePadding":3},
"encoding":{
"x":{"field":"i","type":"quantitative","scale":{"domain":[-50,1050],"nice":false,"zero":false},"axis":{"title":"Iteration","values":[0,125,250,375,500,625,750,875,1000],"labelExpr":"datum.value % 250 === 0 ? datum.label : ''","format":"d","domain":false,"tickSize":3,"tickColor":"#333333","tickOpacity":{"condition":{"test":"datum.value % 250 === 0","value":1},"value":0},"gridColor":{"condition":{"test":"datum.value % 250 === 0","value":"#e9e9e9"},"value":"#f0f0f0"},"gridWidth":{"condition":{"test":"datum.value % 250 === 0","value":1},"value":0.7},"labelFont":"Liberation Sans","labelFontSize":7.6,"labelColor":"#4d4d4d","labelPadding":2,"labelFlush":false,"labelOverlap":false,"titleFont":"Liberation Sans","titleFontSize":9.5,"titleFontWeight":"normal","titleColor":"black","titlePadding":3}},
"y":{"field":"d","type":"quantitative","scale":{"domain":[-0.05,1.05],"nice":false,"zero":false},"axis":{"title":"% Acceptence Rate of Trees","values":[0,0.125,0.25,0.375,0.5,0.625,0.75,0.875,1],"format":".2f","labelExpr":"round(datum.value*8) % 2 === 0 ? datum.label : ''","domain":false,"tickSize":3,"tickColor":"#333333","tickOpacity":{"condition":{"test":"round(datum.value*8) % 2 === 0","value":1},"value":0},"gridColor":{"condition":{"test":"round(datum.value*8) % 2 === 0","value":"#e9e9e9"},"value":"#f0f0f0"},"gridWidth":{"condition":{"test":"round(datum.value*8) % 2 === 0","value":1},"value":0.7},"labelFont":"Liberation Sans","labelFontSize":7.6,"labelColor":"#4d4d4d","labelPadding":1.5,"labelFlush":false,"labelOverlap":false,"titleFont":"Liberation Sans","titleFontSize":9.5,"titleFontWeight":"normal","titleColor":"black","titlePadding":5.5}}},
"layer":[
{"data":{"name":"mc"},"mark":{"type":"circle","size":17,"color":"#0000ff","opacity":0.6}},
{"data":{"name":"fit"},"mark":{"type":"line","color":"black","strokeWidth":2},"encoding":{}}
]}
]
}
